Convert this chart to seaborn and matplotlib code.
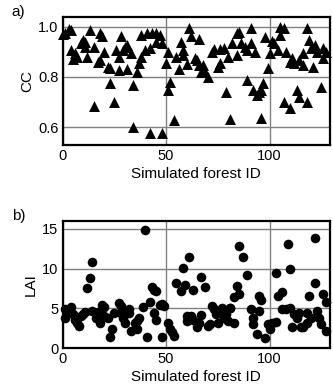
import matplotlib
matplotlib.use("Agg")
import matplotlib.pyplot as plt
import seaborn as sns
import pandas as pd

# Canopy cover (CC) per simulated forest
cc_id = [0, 1, 3, 4, 4, 5, 6, 7, 9, 10, 11, 11, 12, 13, 15, 15, 17, 18, 18, 19,
         20, 22, 23, 23, 25, 26, 27, 27, 28, 29, 30, 31, 31, 33, 34, 34, 36, 37, 38, 38,
         40, 41, 42, 42, 43, 45, 45, 47, 48, 48, 50, 51, 51, 52, 54, 55, 56, 57, 58, 58,
         60, 61, 62, 64, 65, 66, 66, 67, 68, 69, 70, 72, 73, 75, 76, 76, 78, 79, 80, 81,
         82, 84, 84, 85, 86, 88, 89, 89, 91, 91, 92, 93, 94, 95, 96, 96, 97, 98, 99, 100,
         101, 102, 104, 105, 105, 107, 107, 108, 110, 110, 111, 112, 113, 114, 114, 116, 116, 118, 118, 119,
         120, 121, 122, 123, 125, 126, 126, 127]
cc_val = [0.970, 0.976, 0.990, 0.985, 0.907, 0.870, 0.894, 0.880, 0.934, 0.947, 0.940, 0.920, 0.880, 0.987, 0.920, 0.685, 0.860, 0.867, 0.976, 0.963,
          0.900, 0.840, 0.835, 0.777, 0.700, 0.907, 0.880, 0.828, 0.963, 0.907, 0.918, 0.830, 0.927, 0.894, 0.603, 0.768, 0.820, 0.854, 0.880, 0.967,
          0.907, 0.973, 0.576, 0.914, 0.976, 0.973, 0.940, 0.967, 0.578, 0.934, 0.857, 0.750, 0.900, 0.780, 0.630, 0.880, 0.830, 0.940, 0.907, 0.887,
          0.850, 0.993, 0.963, 0.877, 0.868, 0.950, 0.848, 0.820, 0.848, 0.820, 0.800, 0.900, 0.910, 0.840, 0.910, 0.854, 0.917, 0.742, 0.880, 0.632,
          0.934, 0.887, 0.976, 0.980, 0.934, 0.920, 0.907, 0.788, 0.934, 0.993, 0.750, 0.900, 0.728, 0.740, 0.748, 0.636, 0.777, 0.958, 0.834, 0.897,
          0.944, 0.934, 0.907, 0.967, 0.997, 0.993, 0.702, 0.900, 0.675, 0.860, 0.874, 0.854, 0.750, 0.720, 0.868, 0.894, 0.848, 0.700, 0.993, 0.947,
          0.914, 0.840, 0.927, 0.900, 0.759, 0.874, 0.914, 0.900]

# Leaf area index (LAI) per simulated forest
lai_id = [1, 1, 3, 4, 5, 6, 7, 8, 9, 10, 11, 12, 13, 14, 14, 16, 17, 18, 19, 20,
          20, 22, 23, 24, 25, 27, 28, 28, 29, 30, 32, 32, 33, 35, 36, 36, 37, 39, 40, 41,
          42, 43, 44, 45, 44, 45, 47, 48, 49, 48, 51, 52, 53, 54, 55, 57, 58, 59, 60, 61,
          60, 62, 63, 63, 65, 66, 67, 67, 69, 70, 71, 72, 73, 74, 75, 76, 77, 78, 79, 80,
          81, 81, 83, 83, 84, 85, 85, 87, 89, 91, 92, 92, 95, 96, 95, 94, 98, 100, 99, 101,
          103, 103, 104, 106, 106, 108, 109, 110, 110, 111, 112, 113, 114, 115, 116, 118, 118, 119, 120, 122,
          122, 123, 124, 125, 126, 127, 127]
lai_val = [4.9, 3.8, 4.7, 5.2, 4.25, 3.5, 3.2, 2.8, 4.0, 4.25, 4.5, 7.5, 8.8, 10.9, 4.7, 3.75, 4.5, 3.1, 5.4, 5.2,
           4.0, 3.8, 1.4, 2.4, 4.45, 5.7, 5.3, 4.45, 3.75, 3.1, 4.9, 4.45, 2.2, 3.2, 3.4, 2.4, 3.8, 5.2, 14.9, 1.4,
           5.8, 7.7, 7.25, 7.2, 4.45, 3.5, 5.4, 5.6, 5.3, 1.4, 3.2, 2.4, 2.0, 1.5, 8.2, 7.2, 10.1, 8.0, 3.4, 11.5,
           4.0, 4.0, 7.25, 3.5, 2.6, 3.2, 9.0, 4.2, 7.7, 2.8, 3.0, 5.3, 4.9, 4.25, 3.2, 4.45, 5.1, 3.8, 4.25, 3.4,
           5.1, 5.1, 6.4, 3.1, 7.8, 6.75, 12.8, 11.5, 9.25, 4.9, 3.0, 3.8, 6.5, 6.0, 4.7, 1.8, 1.3, 2.4, 3.0, 3.1,
           9.5, 3.3, 6.5, 7.0, 4.9, 4.9, 13.1, 10.0, 5.1, 2.6, 4.25, 3.8, 4.45, 2.6, 2.6, 3.2, 4.35, 6.5, 3.8, 13.9,
           8.2, 4.7, 3.8, 3.0, 6.75, 2.2, 5.8]

cc_df = pd.DataFrame({"id": cc_id, "CC": cc_val})
lai_df = pd.DataFrame({"id": lai_id, "LAI": lai_val})

sns.set_theme(style="white")
plt.rcParams["font.family"] = ["Liberation Sans", "DejaVu Sans"]

fig = plt.figure(figsize=(3.33, 3.86), dpi=100)
ax1 = fig.add_axes([0.188, 0.6244, 0.802, 0.3308])
ax2 = fig.add_axes([0.188, 0.0984, 0.802, 0.329])

sns.scatterplot(data=cc_df, x="id", y="CC", ax=ax1, marker="^", s=62,
                color="black", edgecolor="black", linewidth=0, clip_on=False, zorder=3)
sns.scatterplot(data=lai_df, x="id", y="LAI", ax=ax2, marker="o", s=48,
                color="black", edgecolor="black", linewidth=0, clip_on=False, zorder=3)

for ax, ylab, yticks, ylim, tag in [
    (ax1, "CC", [0.6, 0.8, 1.0], (0.53, 1.037), "a)"),
    (ax2, "LAI", [0, 5, 10, 15], (0, 16), "b)"),
]:
    ax.set_xlim(0, 129)
    ax.set_ylim(*ylim)
    ax.set_xticks([0, 50, 100])
    ax.set_yticks(yticks)
    ax.grid(True, color="#808080", linewidth=1.0)
    ax.set_axisbelow(True)
    for sp in ax.spines.values():
        sp.set_color("black")
        sp.set_linewidth(1.6)
    ax.tick_params(length=0, labelsize=10.5, colors="black", pad=3)
    ax.set_xlabel("Simulated forest ID", fontsize=11, color="black", labelpad=3)
    ax.set_ylabel(ylab, fontsize=11, color="black", labelpad=3)
    ax.text(-0.19, 1.04, tag, transform=ax.transAxes, fontsize=11,
            color="black", ha="left", va="center")

ax1.set_yticklabels(["0.6", "0.8", "1.0"])

fig.savefig("out.png", dpi=100)
